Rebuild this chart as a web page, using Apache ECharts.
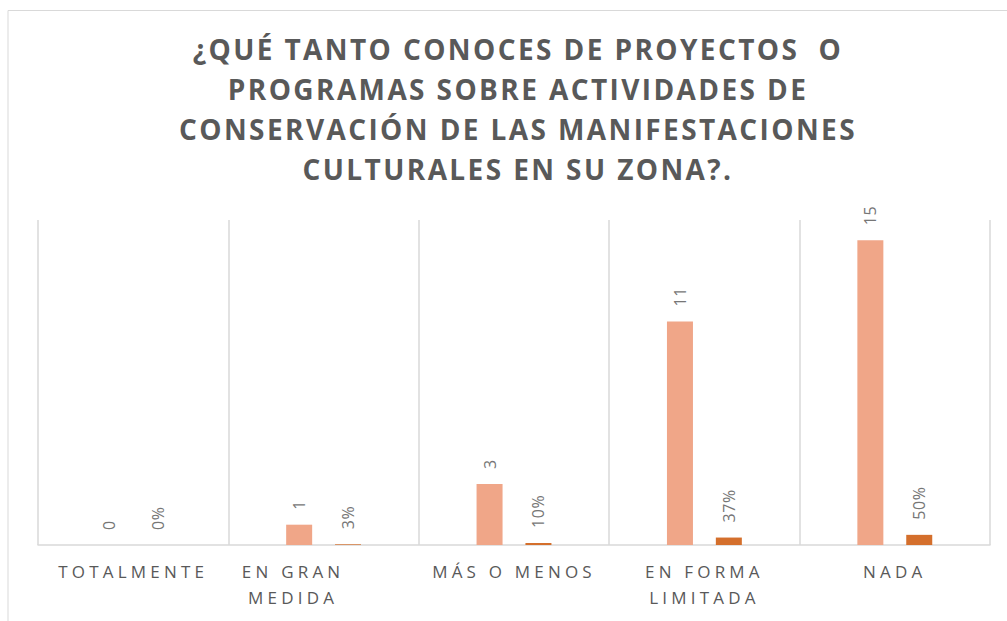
<!DOCTYPE html>
<html>
<head>
<meta charset="utf-8">
<script src="https://cdn.jsdelivr.net/npm/echarts@6/dist/echarts.min.js"></script>
<style>
  html, body { margin: 0; padding: 0; background: #fff; }
  #chart { width: 1007px; height: 621px; }
  /* Office-style letter spacing, svg text inherits it */
  #chart text[style*="bold"] { letter-spacing: 2.4px; }
  #chart text[style*="17px"] { letter-spacing: 4.2px; }
  #chart text[style*="16px"] { letter-spacing: 0.6px; }
</style>
</head>
<body>
<div id="chart"></div>
<script>
var categories = ['TOTALMENTE', 'EN GRAN\nMEDIDA', 'MÁS O MENOS', 'EN FORMA\nLIMITADA', 'NADA'];
var counts = [0, 1, 3, 11, 15];
var shares = [0, 0.0333, 0.1, 0.3667, 0.5];

var chart = echarts.init(document.getElementById('chart'), null, {renderer: 'svg'});

// "EN GRAN MEDIDA" sits left of its slot in the original
var axisData = categories.map(function (c, i) {
    return i === 1 ? {value: c, textStyle: {padding: [0, 61, 0, 0]}} : c;
});

var dataLabel = {
    show: true,
    position: 'top',
    rotate: 90,
    align: 'left',
    verticalAlign: 'middle',
    distance: 15,
    fontFamily: 'Open Sans',
    fontSize: 16,
    color: '#767676'
};

var option = {
    backgroundColor: '#fff',
    animation: false,
    title: {
        text: '¿QUÉ TANTO CONOCES DE PROYECTOS  O\nPROGRAMAS SOBRE ACTIVIDADES DE\nCONSERVACIÓN DE LAS MANIFESTACIONES\nCULTURALES EN SU ZONA?.',
        left: 513,
        textAlign: 'center',
        top: 24,
        textStyle: {
            fontFamily: 'Open Sans',
            fontWeight: 'bold',
            fontSize: 28,
            lineHeight: 40,
            color: '#595959'
        }
    },
    graphic: [{
        type: 'polyline',
        shape: {points: [[8, 621], [8, 10.5], [1007, 10.5]]},
        style: {stroke: '#d9d9d9', fill: null, lineWidth: 1}
    }],
    grid: {left: 38, right: 17, top: 220, bottom: 76},
    xAxis: {
        type: 'category',
        data: axisData,
        axisTick: {show: false},
        axisLine: {lineStyle: {color: '#d9d9d9', width: 1.5}},
        splitLine: {show: true, lineStyle: {color: '#d9d9d9', width: 1.5}},
        axisLabel: {
            margin: 13,
            fontFamily: 'Open Sans',
            fontSize: 17,
            lineHeight: 26,
            color: '#595959',
            interval: 0
        }
    },
    yAxis: {
        type: 'value',
        min: 0,
        max: 16,
        show: false,
        splitLine: {show: false}
    },
    series: [
        {
            name: 'Frecuencia',
            type: 'bar',
            data: counts,
            barWidth: 26,
            barGap: '88%',
            itemStyle: {color: '#F0A688'},
            label: dataLabel
        },
        {
            name: 'Porcentaje',
            type: 'bar',
            data: shares,
            barWidth: 26,
            itemStyle: {color: '#D46F2C'},
            label: Object.assign({}, dataLabel, {
                formatter: function (p) { return Math.round(p.value * 100) + '%'; }
            })
        }
    ]
};

chart.setOption(option);
</script>
</body>
</html>
